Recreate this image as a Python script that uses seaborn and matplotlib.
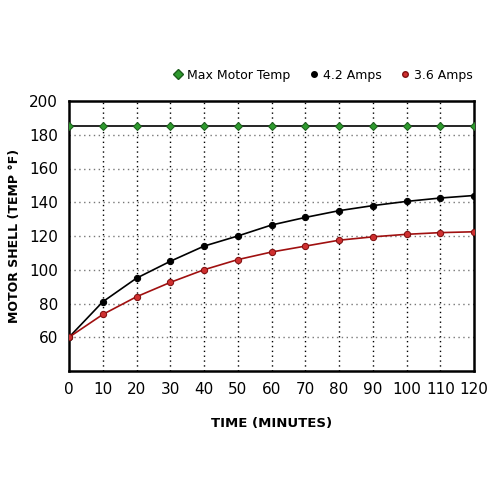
import numpy as np
import pandas as pd
import matplotlib
matplotlib.use("Agg")
import matplotlib.pyplot as plt
import seaborn as sns
from matplotlib.lines import Line2D

minutes = [0, 10, 20, 30, 40, 50, 60, 70, 80, 90, 100, 110, 120]
max_temp = [185] * 13
amps_42 = [60, 81, 95, 105, 114, 120, 126.5, 131, 135, 138, 140.5, 142.5, 144]
amps_36 = [60, 73.5, 84, 92.5, 100, 106, 110.5, 114, 117.5, 119.5, 121, 122, 122.5]
y_ticks = [60, 80, 100, 120, 140, 160, 180, 200]

sns.set_style("white")
plt.rcParams['font.family'] = ['DejaVu Sans']
plt.rcParams['text.color'] = 'black'
plt.rcParams['axes.labelcolor'] = 'black'
plt.rcParams['xtick.color'] = 'black'
plt.rcParams['ytick.color'] = 'black'

fig = plt.figure(figsize=(5, 5), dpi=100)
ax = fig.add_axes([0.138, 0.258, 0.81, 0.54])

# grid
for x in minutes[1:-1]:
    ax.axvline(x, color="black", lw=1, ls=(0, (1, 2.5)), zorder=0)
for y in y_ticks[:-1]:
    ax.axhline(y, color="#777777", lw=1, ls=(0, (1, 2.5)), zorder=0)

sns.lineplot(x=minutes, y=max_temp, ax=ax, color="black", lw=1.2, marker="D",
             markersize=4.5, markerfacecolor="#2e9a2e", markeredgecolor="#1d5e1d", zorder=3)
sns.lineplot(x=minutes, y=amps_42, ax=ax, color="black", lw=1.2, marker="o",
             markersize=4.5, markerfacecolor="black", markeredgecolor="black", zorder=3)
sns.lineplot(x=minutes, y=amps_36, ax=ax, color="#a01010", lw=1.2, marker="o",
             markersize=4.5, markerfacecolor="#d03030", markeredgecolor="#801010", zorder=3)

ax.set_xlim(0, 120)
ax.set_ylim(40, 200)
ax.set_xticks(minutes)
ax.set_yticks(y_ticks)
ax.tick_params(length=0, labelsize=11, pad=8)
for s in ax.spines.values():
    s.set_visible(True)
    s.set_color("black")
    s.set_linewidth(1.8)

ax.set_xlabel("TIME (MINUTES)", fontsize=9.5, fontweight="bold", labelpad=14)
ax.set_ylabel("MOTOR SHELL (TEMP °F)", fontsize=9, fontweight="bold", labelpad=6)

handles = [
    Line2D([], [], ls="none", marker="D", markersize=5, markerfacecolor="#2e9a2e", markeredgecolor="#1d5e1d"),
    Line2D([], [], ls="none", marker="o", markersize=4, markerfacecolor="black", markeredgecolor="black"),
    Line2D([], [], ls="none", marker="o", markersize=4, markerfacecolor="#d03030", markeredgecolor="#801010"),
]
fig.legend(handles, ["Max Motor Temp", "4.2 Amps", "3.6 Amps"], loc="center",
           bbox_to_anchor=(0.645, 0.85), ncol=3, frameon=False, fontsize=9,
           handletextpad=0.2, columnspacing=1.4, handlelength=1)

fig.savefig("out.png", dpi=100)
